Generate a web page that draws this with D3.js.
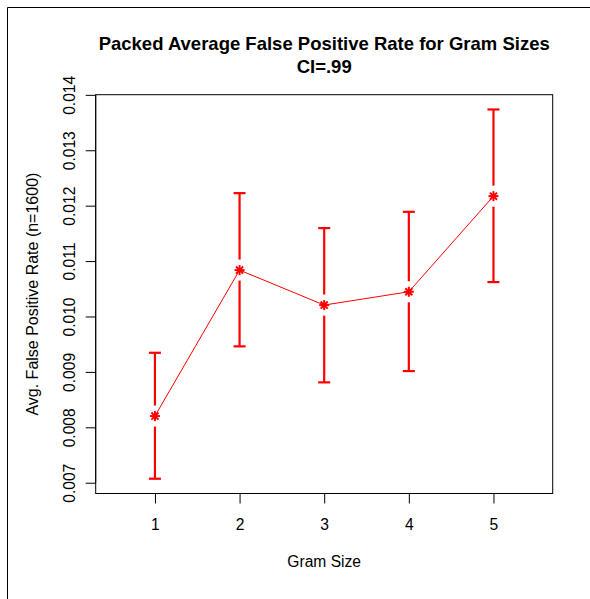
<!DOCTYPE html>
<html>
<head>
<meta charset="utf-8">
<script src="https://cdn.jsdelivr.net/npm/d3@7"></script>
<style>
  html, body { margin: 0; padding: 0; background: #fff; }
  svg { display: block; }
  text { font-family: "Liberation Sans", Arial, Helvetica, sans-serif; fill: #000; }
</style>
</head>
<body>
<svg id="chart" width="590" height="599"></svg>
<script>
// Gram sizes and their mean false positive rate with 99% confidence bounds
const gramSizes = [1, 2, 3, 4, 5];
const meanRate  = [0.008203, 0.010837, 0.010206, 0.010446, 0.012172];
const upperCI   = [0.009345, 0.012226, 0.011595, 0.011889, 0.013736];
const lowerCI   = [0.007072, 0.009461, 0.008811, 0.009015, 0.010621];
const yTicks    = [0.007, 0.008, 0.009, 0.010, 0.011, 0.012, 0.013, 0.014];
const xTicks    = [1, 2, 3, 4, 5];

const titleLines = ["Packed Average False Positive Rate for Gram Sizes", "CI=.99"];
const xLabel = "Gram Size";
const yLabel = "Avg. False Positive Rate (n=1600)";

const svg = d3.select("#chart");
const box = { left: 95.7, right: 552.7, top: 94.7, bottom: 493.5 };
const red = "#ff0000";

// Axis ranges padded by 4% as in a base R plot
const xLo = 0.5, xHi = 5.5;
const xPad = (xHi - xLo) * 0.04;
const x = d3.scaleLinear().domain([xLo - xPad, xHi + xPad]).range([box.left, box.right]);

const yLo = d3.min(lowerCI), yHi = d3.max(upperCI);
const yPad = (yHi - yLo) * 0.04;
const y = d3.scaleLinear().domain([yLo - yPad, yHi + yPad]).range([box.bottom, box.top]);

// outer frame
svg.append("path")
  .attr("d", "M7.5,599 L7.5,7.5 L590,7.5")
  .attr("fill", "none").attr("stroke", "#000").attr("stroke-width", 1);

// plot box
svg.append("rect")
  .attr("x", box.left).attr("y", box.top)
  .attr("width", box.right - box.left).attr("height", box.bottom - box.top)
  .attr("fill", "none").attr("stroke", "#000").attr("stroke-width", 1);

// x axis
const xAxis = d3.axisBottom(x).tickValues(xTicks).tickSize(10).tickPadding(8)
  .tickFormat(d3.format("d"));
const gx = svg.append("g").attr("transform", `translate(0,${box.bottom})`).call(xAxis);
gx.select(".domain").attr("d", `M${x(xTicks[0])},0H${x(xTicks[xTicks.length - 1])}`);
gx.selectAll("text").attr("font-size", 15.6)
  .attr("font-family", "Liberation Sans, Arial, sans-serif").attr("dy", null)
  .attr("y", 36);

// y axis
const yAxis = d3.axisLeft(y).tickValues(yTicks).tickSize(10).tickFormat(d3.format(".3f"));
const gy = svg.append("g").attr("transform", `translate(${box.left},0)`).call(yAxis);
gy.select(".domain").attr("d", `M0,${y(yTicks[0])}V${y(yTicks[yTicks.length - 1])}`);
gy.selectAll(".tick text")
  .attr("font-size", 15.6)
  .attr("font-family", "Liberation Sans, Arial, sans-serif")
  .attr("text-anchor", "middle")
  .attr("x", null).attr("dy", null)
  .attr("transform", "translate(-20.7,0) rotate(-90)");

svg.selectAll(".domain, .tick line").attr("stroke", "#000");

// titles
svg.append("text").attr("x", (box.left + box.right) / 2).attr("y", 50)
  .attr("text-anchor", "middle").attr("font-weight", "bold").attr("font-size", 18.5)
  .text(titleLines[0]);
svg.append("text").attr("x", (box.left + box.right) / 2).attr("y", 72.5)
  .attr("text-anchor", "middle").attr("font-weight", "bold").attr("font-size", 18.5)
  .text(titleLines[1]);

svg.append("text").attr("x", (box.left + box.right) / 2).attr("y", 567)
  .attr("text-anchor", "middle").attr("font-size", 15.6).text(xLabel);

svg.append("text")
  .attr("transform", `translate(38,${(box.top + box.bottom) / 2}) rotate(-90)`)
  .attr("text-anchor", "middle").attr("font-size", 16).text(yLabel);

const data = gramSizes.map((g, i) => ({ g, m: meanRate[i], hi: upperCI[i], lo: lowerCI[i] }));

// connecting line
svg.append("path").datum(data)
  .attr("d", d3.line().x(d => x(d.g)).y(d => y(d.m)))
  .attr("fill", "none").attr("stroke", red).attr("stroke-width", 1);

// error bars with a gap around each point
const gap = 10.5, capHalf = 6;
const bars = svg.append("g").attr("stroke", red).attr("stroke-width", 2.2).attr("fill", "none");
data.forEach(d => {
  const cx = x(d.g), cy = y(d.m), yt = y(d.hi), yb = y(d.lo);
  bars.append("line").attr("x1", cx).attr("x2", cx).attr("y1", yt).attr("y2", cy - gap);
  bars.append("line").attr("x1", cx).attr("x2", cx).attr("y1", cy + gap).attr("y2", yb);
  bars.append("line").attr("x1", cx - capHalf).attr("x2", cx + capHalf).attr("y1", yt).attr("y2", yt);
  bars.append("line").attr("x1", cx - capHalf).attr("x2", cx + capHalf).attr("y1", yb).attr("y2", yb);
});

// asterisk markers
const r = 5, rd = r * Math.SQRT1_2;
const stars = svg.append("g").attr("stroke", red).attr("stroke-width", 2);
data.forEach(d => {
  const cx = x(d.g), cy = y(d.m);
  const s = stars.append("g").attr("transform", `translate(${cx},${cy})`);
  s.append("line").attr("x1", -r).attr("x2", r).attr("y1", 0).attr("y2", 0);
  s.append("line").attr("x1", 0).attr("x2", 0).attr("y1", -r).attr("y2", r);
  s.append("line").attr("x1", -rd).attr("x2", rd).attr("y1", -rd).attr("y2", rd);
  s.append("line").attr("x1", -rd).attr("x2", rd).attr("y1", rd).attr("y2", -rd);
});
</script>
</body>
</html>
